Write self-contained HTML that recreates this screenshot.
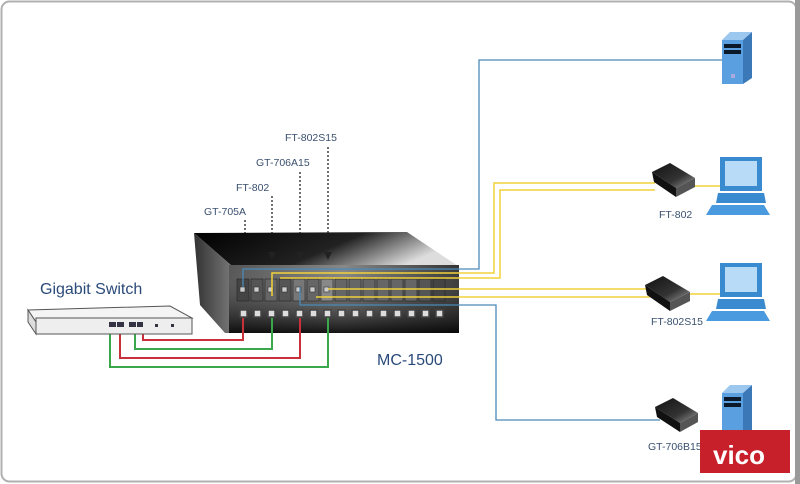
<!DOCTYPE html>
<html><head><style>
html,body{margin:0;padding:0;background:#fff;}
svg{display:block;font-family:"Liberation Sans",sans-serif;}
</style></head><body>
<svg width="800" height="484" viewBox="0 0 800 484" xmlns="http://www.w3.org/2000/svg">
<defs>
<linearGradient id="top" x1="0" y1="0" x2="1" y2="0.3">
<stop offset="0" stop-color="#000"/><stop offset="0.6" stop-color="#222"/><stop offset="1" stop-color="#ddd"/></linearGradient>
<linearGradient id="front" x1="0" y1="0" x2="1" y2="0">
<stop offset="0" stop-color="#555"/><stop offset="0.5" stop-color="#888"/><stop offset="1" stop-color="#333"/></linearGradient>
<linearGradient id="frontv" x1="0" y1="0" x2="0" y2="1">
<stop offset="0" stop-color="#888" stop-opacity="0"/><stop offset="1" stop-color="#000" stop-opacity="0.85"/></linearGradient>
<linearGradient id="side" x1="0" y1="0" x2="1" y2="0">
<stop offset="0" stop-color="#333"/><stop offset="1" stop-color="#777"/></linearGradient>
<linearGradient id="mc" x1="0" y1="0" x2="1" y2="1">
<stop offset="0" stop-color="#111"/><stop offset="0.6" stop-color="#333"/><stop offset="1" stop-color="#999"/></linearGradient>
</defs>
<rect x="0" y="0" width="800" height="484" fill="#fff"/>
<rect x="1.5" y="1.5" width="795" height="480" rx="8" fill="none" stroke="#b0b0b0" stroke-width="2"/>
<rect x="795" y="0" width="5" height="484" fill="#999"/>

<g fill="#3a5070" font-size="10.5">
<text x="285" y="141">FT-802S15</text>
<text x="256" y="166">GT-706A15</text>
<text x="236" y="191">FT-802</text>
<text x="204" y="215">GT-705A</text>
</g>
<g stroke="#222" stroke-width="1.3" stroke-dasharray="2,2" fill="none">
<line x1="245" y1="220" x2="245" y2="236"/>
<line x1="272" y1="196" x2="272" y2="252"/>
<line x1="300" y1="172" x2="300" y2="252"/>
<line x1="328" y1="147" x2="328" y2="252"/>
</g>

<polygon points="194,233 407,232 458,266 232,266" fill="url(#top)"/>
<polygon points="194,233 232,266 232,333 225,333 200,305" fill="url(#side)"/>
<rect x="229" y="265" width="230" height="68" fill="url(#front)"/>
<rect x="229" y="265" width="230" height="68" fill="url(#frontv)"/>
<g fill="#222">
<polygon points="268,252 276,252 272,260"/>
<polygon points="296,252 304,252 300,260"/>
<polygon points="324,252 332,252 328,260"/>
</g>
<g stroke="#222" stroke-width="0.6">
<rect x="237" y="279" width="12" height="22" fill="#444"/><rect x="251" y="279" width="12" height="22" fill="#555"/><rect x="265" y="279" width="12" height="22" fill="#666"/><rect x="279" y="279" width="12" height="22" fill="#555"/><rect x="293" y="279" width="12" height="22" fill="#777"/><rect x="307" y="279" width="12" height="22" fill="#666"/><rect x="321" y="279" width="12" height="22" fill="#888"/>
<rect x="335" y="279" width="12" height="22" fill="#666"/><rect x="349" y="279" width="12" height="22" fill="#666"/><rect x="363" y="279" width="12" height="22" fill="#666"/><rect x="377" y="279" width="12" height="22" fill="#666"/><rect x="391" y="279" width="12" height="22" fill="#666"/><rect x="405" y="279" width="12" height="22" fill="#666"/><rect x="419" y="279" width="12" height="22" fill="#555"/><rect x="433" y="279" width="12" height="22" fill="#444"/>
</g>
<g fill="#ccc" stroke="#333" stroke-width="0.6">
<rect x="240" y="287" width="5" height="5"/><rect x="254" y="287" width="5" height="5"/><rect x="268" y="287" width="5" height="5"/><rect x="282" y="287" width="5" height="5"/><rect x="296" y="287" width="5" height="5"/><rect x="310" y="287" width="5" height="5"/><rect x="324" y="287" width="5" height="5"/>
</g>
<g fill="#ddd" stroke="#444" stroke-width="1.5">
<rect x="240" y="310" width="7" height="7"/><rect x="254" y="310" width="7" height="7"/><rect x="268" y="310" width="7" height="7"/><rect x="282" y="310" width="7" height="7"/><rect x="296" y="310" width="7" height="7"/><rect x="310" y="310" width="7" height="7"/><rect x="324" y="310" width="7" height="7"/><rect x="338" y="310" width="7" height="7"/><rect x="352" y="310" width="7" height="7"/><rect x="366" y="310" width="7" height="7"/><rect x="380" y="310" width="7" height="7"/><rect x="394" y="310" width="7" height="7"/><rect x="408" y="310" width="7" height="7"/><rect x="422" y="310" width="7" height="7"/><rect x="436" y="310" width="7" height="7"/>
</g>

<g stroke="#4a8ab8" stroke-width="1.3" fill="none">
<polyline points="243,287 243,269 479,269 479,60 722,60"/>
<polyline points="300,287 300,305 496,305 496,420 660,420"/>
</g>
<g stroke="#f2d23a" stroke-width="1.5" fill="none">
<polyline points="272,296 272,273 494,273 494,183 655,183"/>
<polyline points="280,278 500,278 500,190 655,190"/>
<polyline points="328,289 650,289"/>
<polyline points="316,297 650,297"/>
<line x1="695" y1="186" x2="722" y2="186"/>
<line x1="688" y1="294" x2="722" y2="294"/>
</g>

<g stroke-width="2" fill="none">
<polyline points="143,330 143,340 243,340 243,318" stroke="#c8303a"/>
<polyline points="135,330 135,349 272,349 272,318" stroke="#3aa84a"/>
<polyline points="120,330 120,358 300,358 300,318" stroke="#c8303a"/>
<polyline points="110,330 110,367 328,367 328,318" stroke="#3aa84a"/>
</g>

<polygon points="28,310 170,306 192,318 36,322" fill="#f4f4f4" stroke="#555"/>
<polygon points="28,310 36,322 36,334 28,322" fill="#ddd" stroke="#555"/>
<rect x="36" y="318" width="156" height="16" fill="#eee" stroke="#555"/>
<g fill="#334">
<rect x="109" y="322" width="7" height="5"/><rect x="117" y="322" width="7" height="5"/><rect x="129" y="322" width="7" height="5"/><rect x="137" y="322" width="6" height="5"/>
<rect x="155" y="324" width="3" height="3"/><rect x="171" y="324" width="3" height="3"/>
</g>
<text x="40" y="294" font-size="16" fill="#2a4a7a">Gigabit Switch</text>
<text x="377" y="365" font-size="16" fill="#2a4a7a">MC-1500</text>

<g>
<polygon points="722,40 730,32 752,32 743,40" fill="#9cc8f0"/>
<rect x="722" y="40" width="21" height="44" fill="#5aa0e0"/>
<polygon points="743,40 752,32 752,78 743,84" fill="#3a78b8"/>
<rect x="724" y="44" width="17" height="4" fill="#0a1a2a"/><rect x="724" y="50" width="17" height="4" fill="#0a1a2a"/>
<rect x="731" y="74" width="4" height="4" fill="#aad"/>
</g>
<g>
<polygon points="722,393 730,385 752,385 743,393" fill="#9cc8f0"/>
<rect x="722" y="393" width="21" height="50" fill="#5aa0e0"/>
<polygon points="743,393 752,385 752,440 743,443" fill="#3a78b8"/>
<rect x="724" y="397" width="17" height="4" fill="#0a1a2a"/><rect x="724" y="403" width="17" height="4" fill="#0a1a2a"/>
</g>

<g>
<polygon points="652,172 670,163 695,178 676,188" fill="url(#mc)"/>
<polygon points="652,172 676,188 676,197 654,182" fill="#111"/>
<polygon points="676,188 695,178 695,187 676,197" fill="#555"/>
<polygon points="645,285 663,276 690,292 670,302" fill="url(#mc)"/>
<polygon points="645,285 670,302 670,311 647,295" fill="#111"/>
<polygon points="670,302 690,292 690,301 670,311" fill="#555"/>
<polygon points="655,407 673,398 698,413 680,423" fill="url(#mc)"/>
<polygon points="655,407 680,423 680,432 657,417" fill="#111"/>
<polygon points="680,423 698,413 698,422 680,432" fill="#555"/>
</g>

<g>
<rect x="720" y="157" width="42" height="34" fill="#3a8ad0"/>
<rect x="725" y="161" width="32" height="25" fill="#b8dcf8"/>
<polygon points="718,193 764,193 766,203 716,203" fill="#3a8ad0"/>
<polygon points="712,205 764,205 770,215 706,215" fill="#4a9ae0"/>
<rect x="720" y="263" width="42" height="34" fill="#3a8ad0"/>
<rect x="725" y="267" width="32" height="25" fill="#b8dcf8"/>
<polygon points="718,299 764,299 766,309 716,309" fill="#3a8ad0"/>
<polygon points="712,311 764,311 770,321 706,321" fill="#4a9ae0"/>
</g>
<g fill="#3a5070" font-size="10.5">
<text x="659" y="218">FT-802</text>
<text x="651" y="325">FT-802S15</text>
<text x="648" y="450">GT-706B15</text>
</g>
<rect x="700" y="430" width="90" height="43" fill="#c8202a"/>
<text x="713" y="464" font-size="26" font-weight="bold" fill="#fff">vico</text>
</svg>
</body></html>
